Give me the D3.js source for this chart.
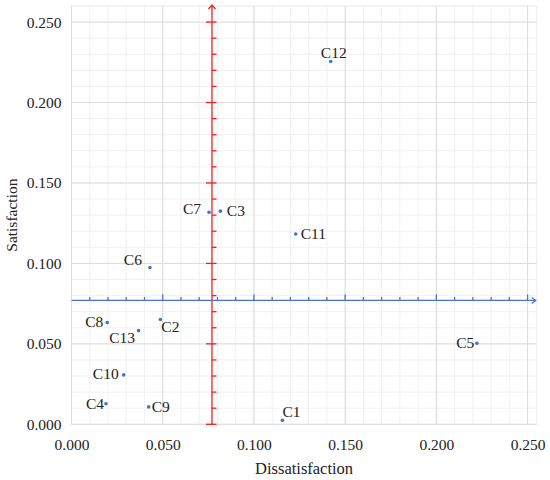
<!DOCTYPE html>
<html>
<head>
<meta charset="utf-8">
<script src="https://cdn.jsdelivr.net/npm/d3@7"></script>
<style>
  body { margin: 0; background: #fff; }
  text { font-family: "Liberation Serif", "Times New Roman", serif; fill: #222; }
  .grid-minor line { stroke: #f1f1f1; }
  .grid-major line { stroke: #dcdcdc; }
</style>
</head>
<body>
<div id="chart"></div>
<script>
// criteria and their coordinates
const labels = ['C1', 'C2', 'C3', 'C4', 'C5', 'C6', 'C7', 'C8', 'C9', 'C10', 'C11', 'C12', 'C13'];
const dissatisfaction = [0.1156, 0.0487, 0.0816, 0.0189, 0.2222, 0.0430, 0.0754, 0.0196, 0.0423, 0.0286, 0.1229, 0.1421, 0.0368];
const satisfaction = [0.0025, 0.0651, 0.1325, 0.0128, 0.0504, 0.0974, 0.1318, 0.0632, 0.0108, 0.0307, 0.1183, 0.2255, 0.0582];
// mean lines (quadrant split)
const meanX = 0.077;
const meanY = 0.077;
const tickValues = [0, 0.05, 0.1, 0.15, 0.2, 0.25];

// label placement relative to the point: [anchor, dx, dy]
const labelPlace = {
    C1: ['start', 0, -3], C2: ['start', 1, 12], C3: ['start', 6.5, 5],
    C4: ['end', -2, 5], C5: ['end', -2.5, 4.5], C6: ['end', -8, -2.5],
    C7: ['end', -8, 2], C8: ['end', -4, 4], C9: ['start', 3, 5.5],
    C10: ['end', -5, 4.5], C11: ['start', 5, 5], C12: ['middle', 3, -4],
    C13: ['end', -3.5, 12.5]
};

const config = {
    width: 550, height: 480,
    margin: {top: 6, right: 13.3, bottom: 55.7, left: 71.5}
};

const width = config.width - config.margin.left - config.margin.right;
const height = config.height - config.margin.top - config.margin.bottom;

const svg = d3.select('#chart').append('svg')
    .attr('width', config.width)
    .attr('height', config.height);

const chart = svg.append('g')
    .attr('transform', `translate(${config.margin.left},${config.margin.top})`);

const x = d3.scaleLinear().domain([0, 0.255]).range([0, width]);
const y = d3.scaleLinear().domain([0, 0.26]).range([height, 0]);

const minorX = d3.range(1, 26).map(i => i / 100);
const minorY = d3.range(1, 27).map(i => i / 100);

// gridlines
const minor = chart.append('g').attr('class', 'grid-minor');
minor.selectAll('line.v').data(minorX).join('line')
    .attr('class', 'v')
    .attr('x1', d => x(d)).attr('x2', d => x(d))
    .attr('y1', 0).attr('y2', height);
minor.selectAll('line.h').data(minorY).join('line')
    .attr('class', 'h')
    .attr('y1', d => y(d)).attr('y2', d => y(d))
    .attr('x1', 0).attr('x2', width);
chart.append('rect')
    .attr('width', width).attr('height', height)
    .attr('fill', 'none').attr('stroke', '#eeeeee');

const major = chart.append('g').attr('class', 'grid-major');
major.selectAll('line.v').data(tickValues).join('line')
    .attr('class', 'v')
    .attr('x1', d => x(d)).attr('x2', d => x(d))
    .attr('y1', 0).attr('y2', height);
major.selectAll('line.h').data(tickValues).join('line')
    .attr('class', 'h')
    .attr('y1', d => y(d)).attr('y2', d => y(d))
    .attr('x1', 0).attr('x2', width);

// axes labels
const fmt = d3.format('.3f');
const xAxis = chart.append('g')
    .attr('transform', `translate(0,${height})`)
    .call(d3.axisBottom(x).tickValues(tickValues).tickFormat(fmt).tickSize(0).tickPadding(15));
const yAxis = chart.append('g')
    .call(d3.axisLeft(y).tickValues(tickValues).tickFormat(fmt).tickSize(0).tickPadding(10));
[xAxis, yAxis].forEach(a => {
    a.select('.domain').remove();
    a.selectAll('text').attr('font-size', 15.5).attr('font-family', '"Liberation Serif", serif').attr('fill', '#222');
});

chart.append('text')
    .attr('x', width / 2).attr('y', height + 50)
    .attr('text-anchor', 'middle')
    .attr('font-size', 16.5)
    .text('Dissatisfaction');
chart.append('text')
    .attr('transform', `translate(${-55},${height / 2}) rotate(-90)`)
    .attr('text-anchor', 'middle')
    .attr('font-size', 15.5)
    .text('Satisfaction');

// mean lines with ticks and arrows
const red = '#ff1a1a';
const blue = '#4a72d0';
const vx = x(meanX);
const hy = y(meanY);

const vLine = chart.append('g').attr('stroke', red).attr('stroke-width', 1.3).attr('fill', 'none');
vLine.append('line').attr('x1', vx).attr('x2', vx).attr('y1', y(0)).attr('y2', -1);
vLine.append('path').attr('d', `M${vx - 3.5},3 L${vx},-1 L${vx + 3.5},3`);
vLine.selectAll('line.tick').data(d3.range(0, 26).map(i => i / 100)).join('line')
    .attr('class', 'tick')
    .attr('x1', (d, i) => i % 5 === 0 ? vx - 6 : vx)
    .attr('x2', vx + 4.5)
    .attr('y1', d => y(d)).attr('y2', d => y(d));

const hLine = chart.append('g').attr('stroke', blue).attr('stroke-width', 1.3).attr('fill', 'none');
hLine.append('line').attr('x1', 0).attr('x2', width - 1).attr('y1', hy).attr('y2', hy);
hLine.append('path').attr('d', `M${width - 5},${hy - 3} L${width - 1},${hy} L${width - 5},${hy + 3}`);
hLine.selectAll('line.tick').data(d3.range(1, 26).map(i => i / 100)).join('line')
    .attr('class', 'tick')
    .attr('x1', d => x(d)).attr('x2', d => x(d))
    .attr('y1', (d, i) => (i + 1) % 5 === 0 ? hy - 6 : hy - 3.5)
    .attr('y2', hy);

// points
const points = labels.map((name, i) => ({name, dx: dissatisfaction[i], sy: satisfaction[i]}));

chart.selectAll('.point').data(points).join('circle')
    .attr('class', 'point')
    .attr('cx', d => x(d.dx)).attr('cy', d => y(d.sy))
    .attr('r', 1.8)
    .attr('fill', '#4472c4');

chart.selectAll('.point-label').data(points).join('text')
    .attr('class', 'point-label')
    .attr('x', d => x(d.dx) + labelPlace[d.name][1])
    .attr('y', d => y(d.sy) + labelPlace[d.name][2])
    .attr('text-anchor', d => labelPlace[d.name][0])
    .attr('font-size', 15.5)
    .text(d => d.name);
</script>
</body>
</html>
